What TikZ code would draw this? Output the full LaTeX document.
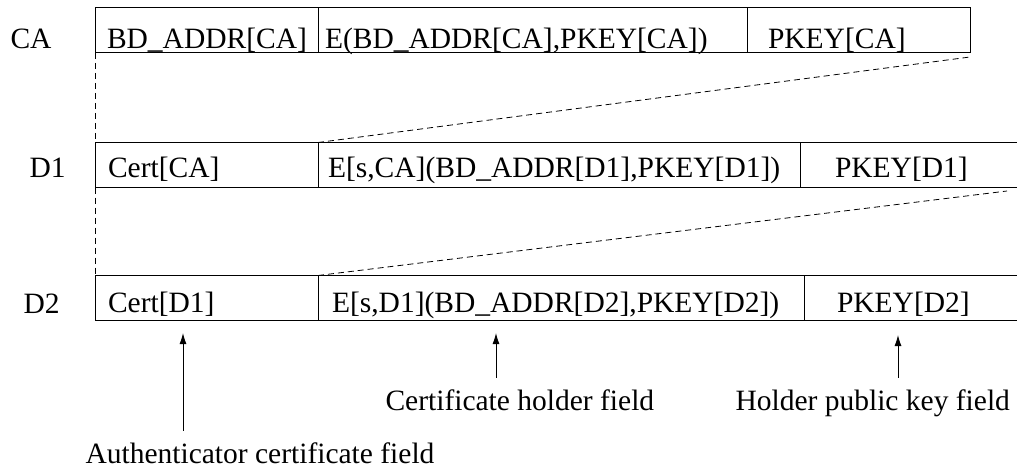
\documentclass[tikz,border=0pt]{standalone}
\usepackage{fontspec}
\setmainfont{Liberation Serif}
\usetikzlibrary{arrows.meta}
\usetikzlibrary{positioning}
\newcommand{\figfont}{\fontsize{29.5}{34}\selectfont}
\tikzset{cell/.style = {draw, outer sep = 0, inner ysep = 0, align = left, font = \figfont}}
\tikzset{tag/.style = {inner sep = 0, anchor = base west, font = \figfont}}
\tikzset{link/.style = {dash pattern = on 6pt off 4pt, line width = 0.8pt}}
\tikzset{pointer/.style = {-{Latex[length = 11pt, width = 7pt]}, line width = 0.9pt, shorten <= 11pt}}

\begin{document}
\begin{tikzpicture}[x = 1pt, y = -1pt, line width = 1pt,
    rowca/.style = {text height = 41pt, text depth = 4pt},
    rowdone/.style = {text height = 34.5pt, text depth = 10.5pt},
    rowdtwo/.style = {text height = 37pt, text depth = 8pt}]
      \useasboundingbox (0, 0) rectangle (1017, 468);

      % certificate of CA
      \node [tag] (lca) at (10, 49) {CA};
      \node [cell, rowca, anchor = south west, text width = 199pt, inner xsep = 12pt] (ca1) at (95, 53) {BD\_ADDR[CA]};
      \node [cell, rowca, right = 0pt of ca1, text width = 415pt, inner xsep = 7pt] (ca2) {E(BD\_ADDR[CA],PKEY[CA])};
      \node [cell, rowca, right = 0pt of ca2, text width = 181pt, inner xsep = 21pt] (ca3) {PKEY[CA]};

      % certificate of D1
      \node [tag] (ldone) at (29, 177) {D1};
      \node [cell, rowdone, anchor = south west, text width = 197pt, inner xsep = 13pt] (d1a) at (95, 187.5) {Cert[CA]};
      \node [cell, rowdone, right = 0pt of d1a, text width = 462pt, inner xsep = 10pt] (d1b) {E[s,CA](BD\_ADDR[D1],PKEY[D1])};
      \node [cell, rowdone, right = 0pt of d1b, text width = 150pt, inner xsep = 35pt] (d1c) {PKEY[D1]};

      % certificate of D2
      \node [tag] (ldtwo) at (23, 313) {D2};
      \node [cell, rowdtwo, anchor = south west, text width = 197pt, inner xsep = 13pt] (d2a) at (95, 320.5) {Cert[D1]};
      \node [cell, rowdtwo, right = 0pt of d2a, text width = 458pt, inner xsep = 14pt] (d2b) {E[s,D1](BD\_ADDR[D2],PKEY[D2])};
      \node [cell, rowdtwo, right = 0pt of d2b, text width = 150pt, inner xsep = 33pt] (d2c) {PKEY[D2]};

      \coordinate (caend) at (970, 57);
      \coordinate (d1end) at (1007, 191);
      \draw [link] (ca1.south west) -- (d1a.north west);
      \draw [link] (d1a.south west) -- (d2a.north west);
      \draw [link] (d1b.north west) -- (caend);
      \draw [link] (d2b.north west) -- (d1end);

      % field names
      \node [tag] (auth) at (85, 463) {Authenticator certificate field};
      \node [tag] (holder) at (385, 410) {Certificate holder field};
      \node [tag] (pubkey) at (735, 410) {Holder public key field};

      \coordinate (tip1) at (183, 333);
      \coordinate (tip2) at (496, 333);
      \coordinate (tip3) at (898, 335);
      \draw [pointer] (auth.north -| tip1) -- (tip1);
      \draw [pointer] (holder.north -| tip2) -- (tip2);
      \draw [pointer] (pubkey.north -| tip3) -- (tip3);
    \end{tikzpicture}
\end{document}
